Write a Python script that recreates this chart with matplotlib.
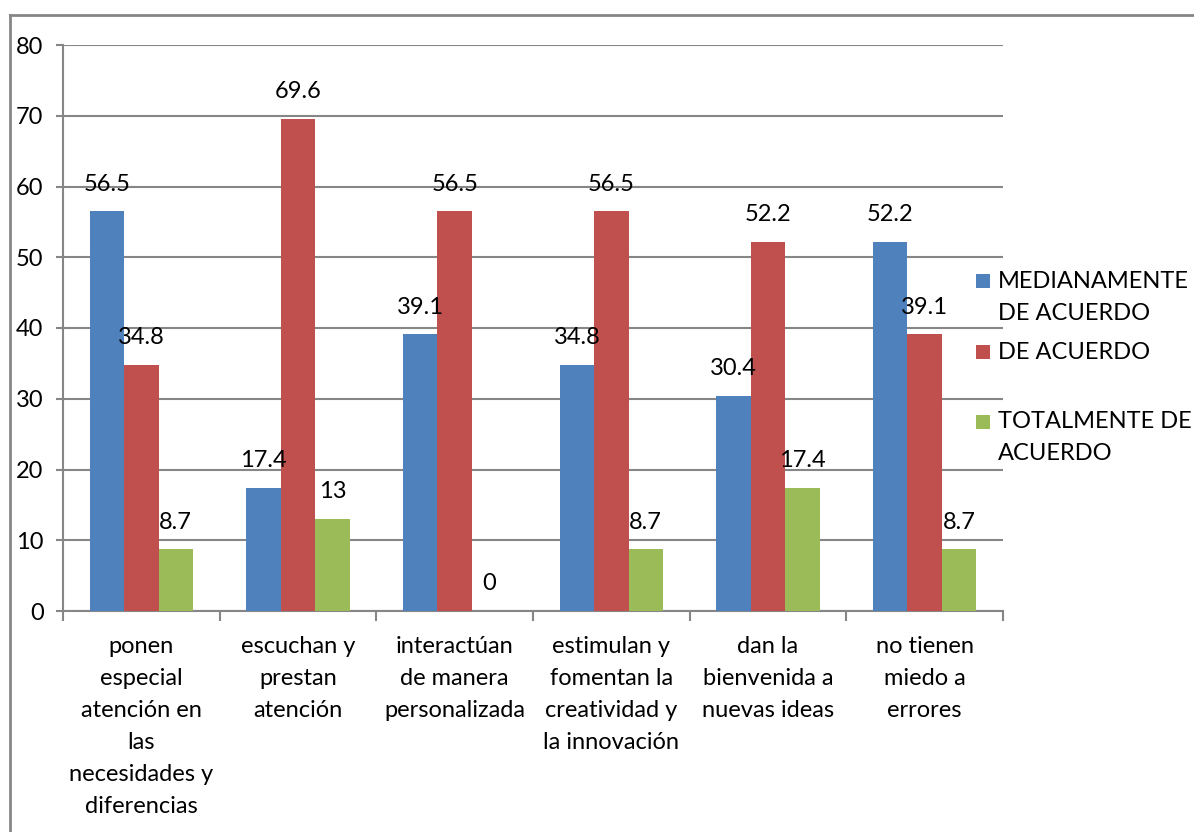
import matplotlib
matplotlib.use("Agg")
import matplotlib.pyplot as plt
from matplotlib.patches import Rectangle
from matplotlib.lines import Line2D
import numpy as np

categories = [
    "ponen\nespecial\natención en\nlas\nnecesidades y\ndiferencias",
    "escuchan y\nprestan\natención",
    "interactúan\nde manera\npersonalizada",
    "estimulan y\nfomentan la\ncreatividad y\nla innovación",
    "dan la\nbienvenida a\nnuevas ideas",
    "no tienen\nmiedo a\nerrores",
]
series_names = ["MEDIANAMENTE\nDE ACUERDO", "DE ACUERDO", "TOTALMENTE DE\nACUERDO"]
medianamente = [56.5, 17.4, 39.1, 34.8, 30.4, 52.2]
de_acuerdo = [34.8, 69.6, 56.5, 56.5, 52.2, 39.1]
totalmente = [8.7, 13, 0, 8.7, 17.4, 8.7]
y_ticks = [0, 10, 20, 30, 40, 50, 60, 70, 80]

colors = ["#4F81BD", "#C0504D", "#9BBB59"]
FONT = "Lato"
FS = 17
W, H = 1194, 832

fig = plt.figure(figsize=(W / 100, H / 100), dpi=100)
ax = fig.add_axes([63 / W, 1 - 611 / H, (1003 - 63) / W, (611 - 45) / H])

x = np.arange(len(categories))
bw = 0.22
gray = "#868686"
for i, (vals, col) in enumerate(zip([medianamente, de_acuerdo, totalmente], colors)):
    pos = x + (i - 1) * bw
    ax.bar(pos, vals, width=bw, color=col, edgecolor="none", zorder=3)
    for p, v in zip(pos, vals):
        ax.annotate(f"{v:g}", (p, v), xytext=(0, 19.5), textcoords="offset points",
                    ha="center", va="center", fontsize=FS, family=FONT, color="black", zorder=4)

ax.set_xlim(-0.5, len(categories) - 0.5)
ax.set_ylim(0, 80)
ax.set_yticks(y_ticks)
ax.set_yticklabels([str(t) for t in y_ticks], fontsize=FS, family=FONT)
ax.yaxis.grid(True, color=gray, linewidth=1.5, zorder=0)
ax.set_axisbelow(True)

ax.set_xticks(x)
ax.set_xticklabels(categories, fontsize=FS, family=FONT, linespacing=1.65, va="top")
ax.tick_params(axis="x", length=0, pad=18)
ax.set_xticks(np.arange(-0.5, len(categories)), minor=True)
ax.tick_params(axis="x", which="minor", length=7, width=1.5, color=gray, direction="out")
ax.tick_params(axis="y", length=5, width=1.5, color=gray, pad=9)

for s in ["top", "right"]:
    ax.spines[s].set_visible(False)
for s in ["left", "bottom"]:
    ax.spines[s].set_color(gray)
    ax.spines[s].set_linewidth(1.5)

# outer chart border (cropped)
fig.add_artist(Line2D([10 / W, 10 / W], [0, 1 - 15 / H], transform=fig.transFigure, color=gray, linewidth=2))
fig.add_artist(Line2D([10 / W, 1], [1 - 15 / H, 1 - 15 / H], transform=fig.transFigure, color=gray, linewidth=2))

# legend
leg_marker_y = [281, 352, 422]
for name, col, my in zip(series_names, colors, leg_marker_y):
    fig.add_artist(Rectangle((976 / W, 1 - (my + 7) / H), 14 / W, 14 / H,
                             transform=fig.transFigure, facecolor=col, edgecolor="none"))
    for k, line in enumerate(name.split("\n")):
        fig.text(998 / W, 1 - (my + 32 * k) / H, line, ha="left", va="center",
                 fontsize=FS, family=FONT, color="black")

fig.savefig("out.png", dpi=100)
